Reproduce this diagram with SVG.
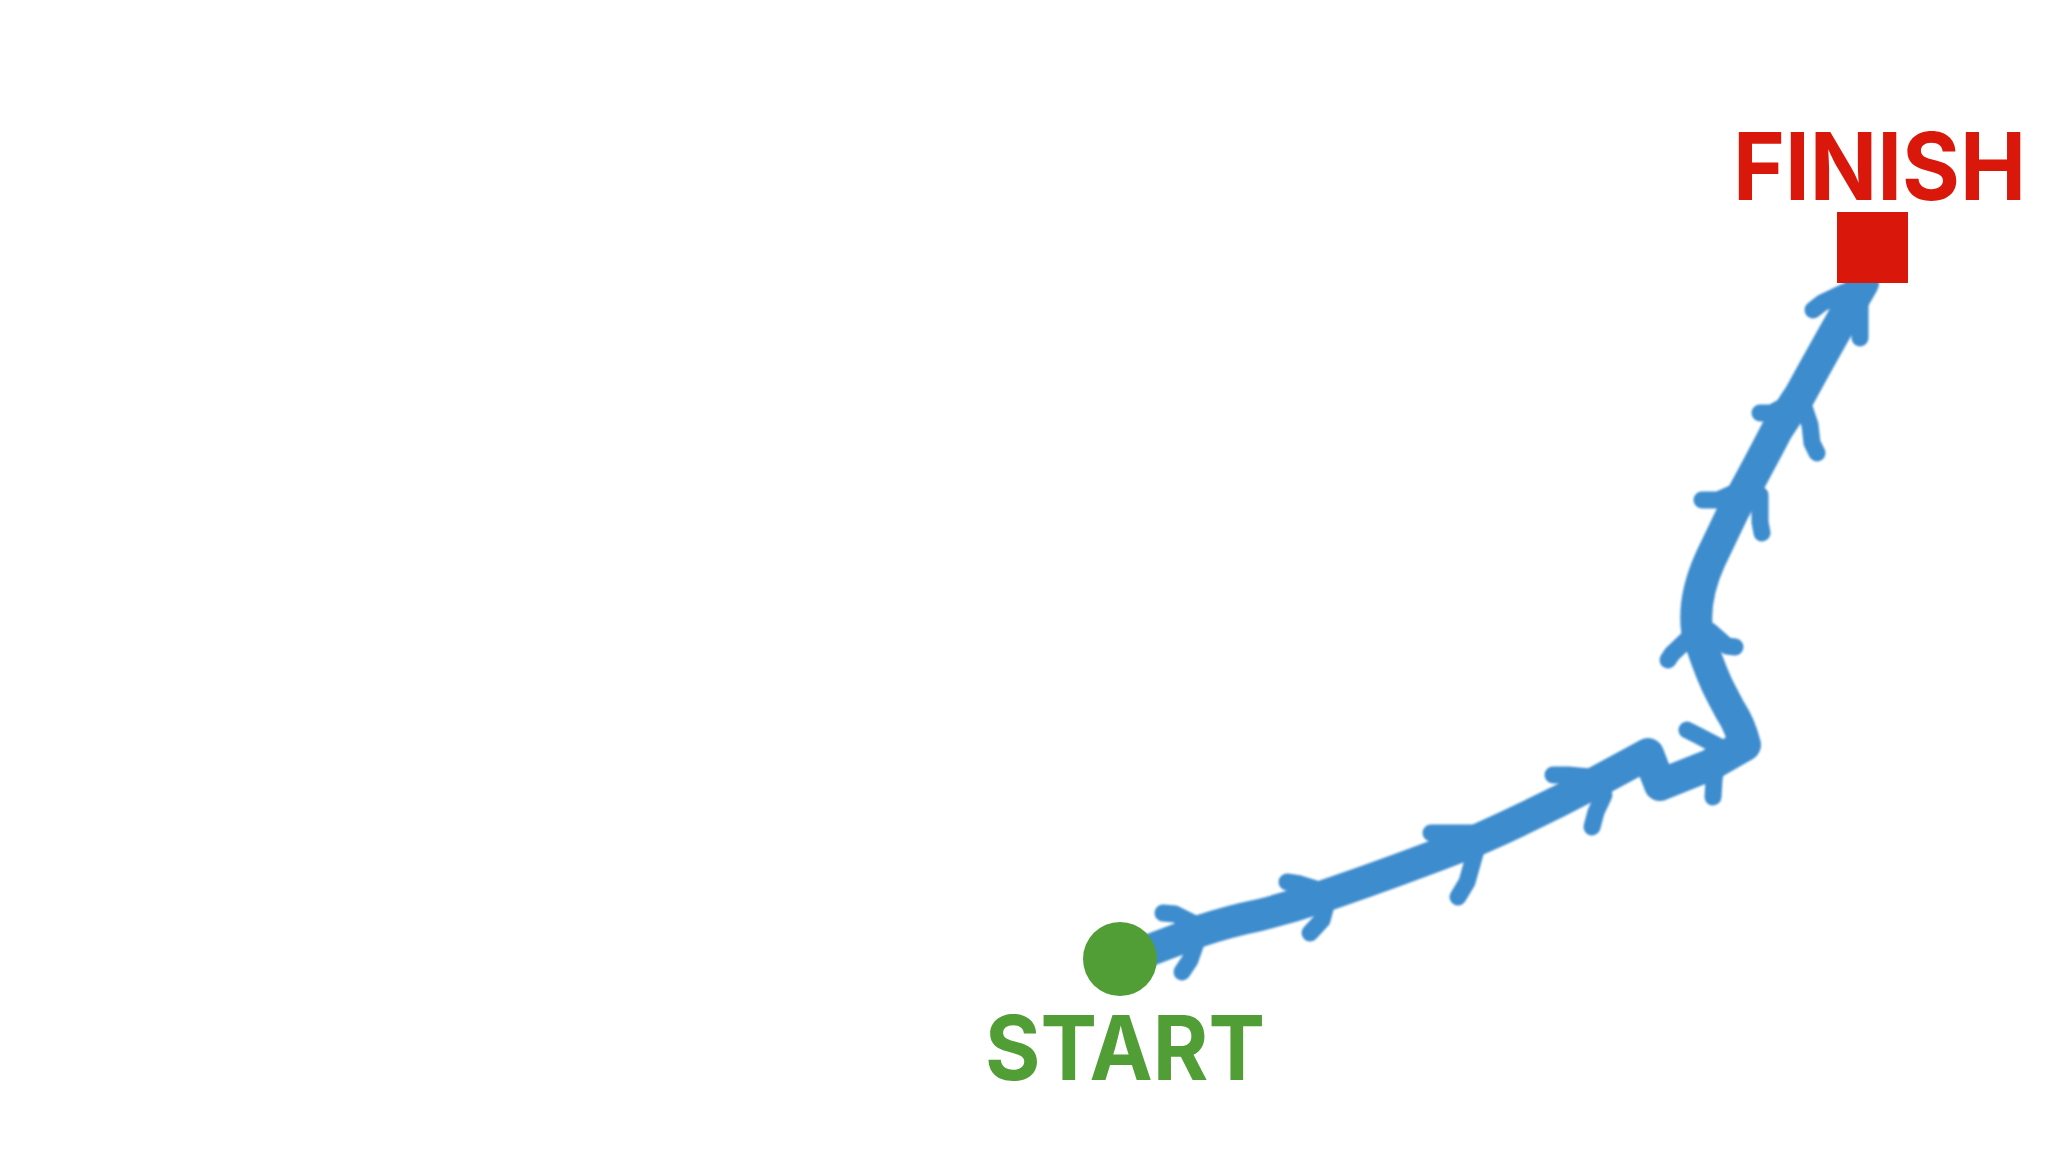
<svg xmlns="http://www.w3.org/2000/svg" width="2048" height="1163" viewBox="0 0 2048 1163">
<defs>
<filter id="soft" x="-5%" y="-5%" width="110%" height="110%"><feGaussianBlur stdDeviation="0.8"/></filter>
</defs>
<style>
.route{fill:none;stroke:#3D8CCE;stroke-width:32;stroke-linecap:round;stroke-linejoin:round}
.barb{fill:none;stroke:#3D8CCE;stroke-width:17;stroke-linecap:round;stroke-linejoin:round}
.lbl{font-family:Inter,"Liberation Sans",sans-serif;font-weight:700}
</style>
<rect width="2048" height="1163" fill="#ffffff"/>
<g id="connectors" filter="url(#soft)">
<path class="route" d="M1150,950 L1200,931 Q1230,921 1260,915 Q1295,906 1327,895 Q1400,870 1477,840 Q1540,812 1600,780 L1648,754 L1660,785 L1710,765 L1745,745 Q1740,725 1730,710 Q1722,695 1717,685 Q1705,658 1697,630 Q1693,598 1710,560 L1733,512 Q1752,478 1777,430 Q1790,410 1800,395 Q1830,340 1863,283"/>
<path class="barb" d="M1163,913 L1175,914 L1197,925 M1182,972 L1190,960 L1197,940"/>
<path class="barb" d="M1287,882 L1300,884 L1326,892 M1310,933 L1322,920 L1326,905"/>
<path class="barb" d="M1431,833 L1475,833 M1458,897 L1467,882 L1476,850"/>
<path class="barb" d="M1553,775 L1568,775 L1590,777 M1592,827 L1596,812 L1604,795"/>
<path class="barb" d="M1687,730 L1697,735 L1718,746 M1713,797 L1714,780 L1716,766"/>
<path class="barb" d="M1668,660 L1672,654 L1692,635 M1735,647 L1727,646 L1710,631"/>
<path class="barb" d="M1702,500 L1718,500 L1745,488 M1762,533 L1760,522 L1760,495"/>
<path class="barb" d="M1760,413 L1772,413 L1795,400 M1817,453 L1812,443 L1810,425 L1804,407"/>
<path class="barb" d="M1813,310 L1822,303 L1845,292 M1860,338 L1860,300"/>
</g>
<g id="start">
<circle cx="1120" cy="959" r="37" fill="#529E36"/>
<text class="lbl" x="985" y="1080" font-size="90" fill="#529E36" textLength="280" lengthAdjust="spacingAndGlyphs">START</text>
</g>
<g id="finish">
<rect x="1837" y="212" width="71" height="71" fill="#D9170A"/>
<text class="lbl" x="1733" y="200" font-size="94" fill="#D9170A" textLength="293" lengthAdjust="spacingAndGlyphs">FINISH</text>
</g>
</svg>
